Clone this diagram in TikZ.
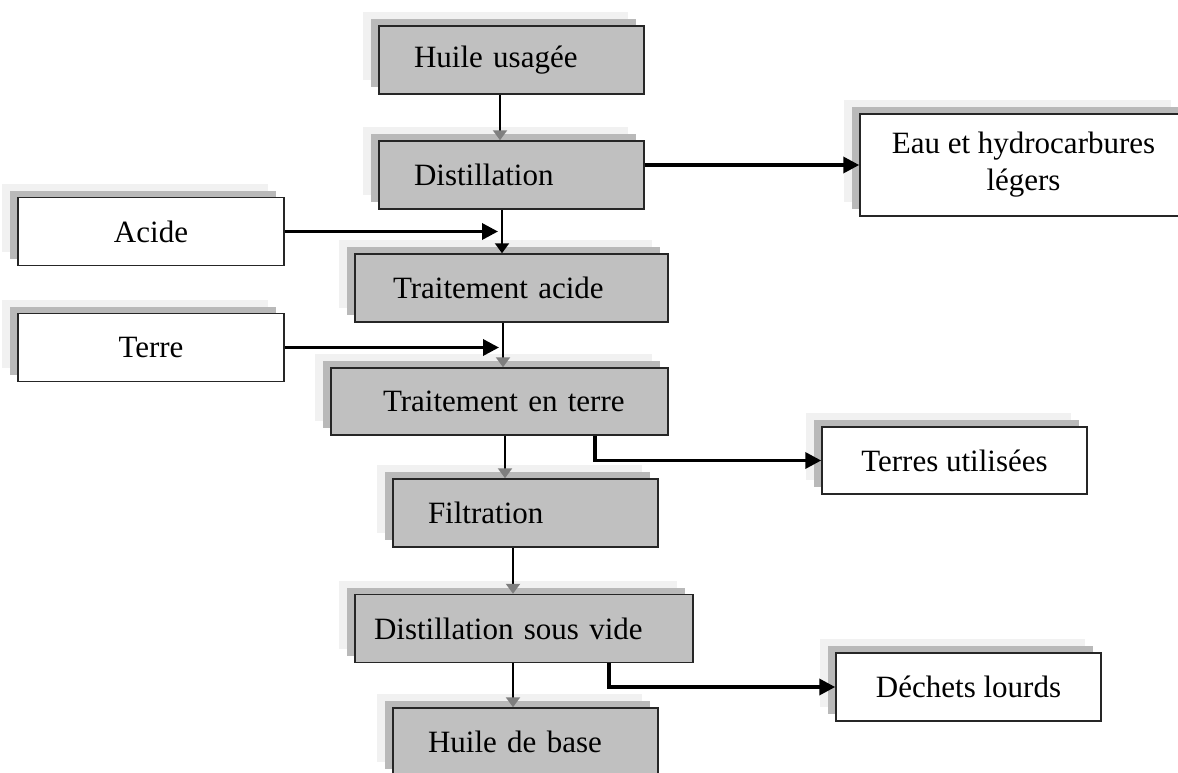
\documentclass[tikz,border=0pt]{standalone}
\usepackage{fontspec}
\setmainfont{Liberation Serif}
\usetikzlibrary{arrows.meta,shadows}

\definecolor{procGray}{HTML}{C0C0C0}
\definecolor{shadeDark}{HTML}{B9B9B9}
\definecolor{shadeLight}{HTML}{F1F1F1}
\definecolor{tipGray}{HTML}{7F7F7F}

\begin{document}
\begin{tikzpicture}[x=1pt,y=-1pt]
	\useasboundingbox (0,0) rectangle (1178,772);
	\clip (0,0) rectangle (1178,772);
	\begin{scope}
		[
			boxShadow/.style={
				general shadow={shadow xshift=-16pt, shadow yshift=14pt, draw=none, fill=shadeLight},
				general shadow={shadow xshift=-8pt, shadow yshift=7pt, draw=none, fill=shadeDark}
				},
			styleProc/.style={
				draw=black!85, line width=1.5pt, fill=procGray, boxShadow,
				minimum height=68pt, align=left,
				font=\fontsize{31}{37}\selectfont
				},
			styleFlux/.style={
				draw=black!85, line width=1.5pt, fill=white, boxShadow,
				minimum height=68pt, minimum width=265pt, align=center,
				font=\fontsize{31}{37}\selectfont
				},
		]
		\node(huile)[styleProc, text width=195pt, inner xsep=35pt] at (511.5,60) {Huile usagée};
		\node(dist)[styleProc, text width=195pt, inner xsep=35pt] at (511.5,175) {Distillation};
		\node(eau)[styleFlux, minimum width=327pt, minimum height=102pt] at (1023.5,165) {Eau et hydrocarbures\\légers};
		\node(acide)[styleFlux, minimum width=266pt] at (151,231.5) {Acide};
		\node(ta)[styleProc, text width=237pt, inner xsep=38pt] at (511.5,288) {Traitement acide};
		\node(terre)[styleFlux, minimum width=266pt] at (151,347.5) {Terre};
		\node(tet)[styleProc, text width=233pt, inner xsep=52pt, minimum height=67pt] at (499.5,401.5) {\mbox{Traitement en terre}};
		\node(tu)[styleFlux, minimum height=67pt] at (954.5,460.5) {Terres utilisées};
		\node(filt)[styleProc, text width=195pt, inner xsep=35pt] at (525.5,513) {Filtration};
		\node(dsv)[styleProc, text width=300pt, inner xsep=19pt] at (524,628.5) {Distillation sous vide};
		\node(dl)[styleFlux] at (968.5,687) {Déchets lourds};
		\node(hdb)[styleProc, text width=195pt, inner xsep=35pt] at (525.5,742) {Huile de base};
	\end{scope}

	\begin{scope}
		[
			flowGray/.style={line width=2.2pt, -{Triangle[length=10pt, width=14pt, color=tipGray]}},
			flowBlack/.style={line width=2.2pt, -{Triangle[length=10pt, width=14pt]}},
			feed/.style={line width=3.5pt, -{Triangle[length=16pt, width=16pt]}},
		]
		\coordinate (jA) at ([xshift=-9.5pt]dist.south);
		\coordinate (jT) at ([xshift=-8.5pt]ta.south);
		\path
		([xshift=-11.5pt]huile.south) edge[flowGray]	([xshift=-11.5pt]huile.south |- dist.north)
		(dist.east |- eau.west) edge[feed]			(eau.west)
		(jA) edge[flowBlack]						(jA |- ta.north)
		(acide.east) edge[feed, shorten >=4pt]		(acide.east -| jA)
		(jT) edge[flowGray]							(jT |- tet.north)
		(terre.east) edge[feed, shorten >=4pt]		(terre.east -| jT)
		([xshift=5.5pt]tet.south) edge[flowGray]	([xshift=5.5pt]tet.south |- filt.north)
		([xshift=-12.5pt]filt.south) edge[flowGray]	([xshift=-12.5pt]filt.south |- dsv.north)
		([xshift=-11pt]dsv.south) edge[flowGray]	([xshift=-11pt]dsv.south |- hdb.north);

		\draw[feed] ([xshift=95.5pt]tet.south) |- (tu.west);
		\draw[feed] ([xshift=85pt]dsv.south) |- (dl.west);
	\end{scope}
\end{tikzpicture}
\end{document}
